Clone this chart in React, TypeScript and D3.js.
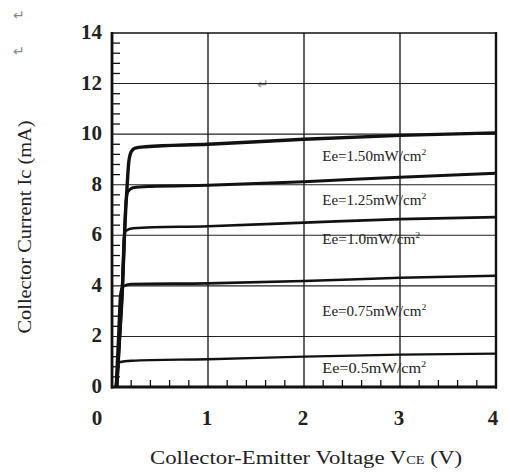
import React from "react";
import * as d3 from "d3";

const xTicks = [0, 1, 2, 3, 4];
const yTicks = [0, 2, 4, 6, 8, 10, 12, 14];
const seriesNames = ["1.50", "1.25", "1.0", "0.75", "0.5"];
const labelTexts = ["Ee=1.50mW/cm", "Ee=1.25mW/cm", "Ee=1.0mW/cm", "Ee=0.75mW/cm", "Ee=0.5mW/cm"];
const labelY = [8.95, 7.2, 5.65, 2.8, 0.55];

const curve150: [number, number][] = [[0.05, 0], [0.08, 2], [0.11, 4], [0.13, 6], [0.155, 7.8], [0.175, 8.9], [0.2, 9.3], [0.24, 9.45], [0.35, 9.5], [1, 9.6], [2, 9.8], [3, 9.95], [4, 10.05]];
const curve125: [number, number][] = [[0.05, 0], [0.08, 2], [0.11, 4], [0.13, 6], [0.145, 7.3], [0.165, 7.72], [0.22, 7.88], [0.4, 7.93], [1, 7.98], [2, 8.12], [3, 8.3], [4, 8.45]];
const curve100: [number, number][] = [[0.05, 0], [0.08, 2], [0.105, 4], [0.125, 5.9], [0.145, 6.18], [0.22, 6.28], [1, 6.36], [2, 6.5], [3, 6.64], [4, 6.72]];
const curve075: [number, number][] = [[0.04, 0], [0.065, 2], [0.085, 3.6], [0.11, 3.97], [0.2, 4.07], [1, 4.1], [2, 4.19], [3, 4.32], [4, 4.4]];
const curve050: [number, number][] = [[0.04, 0], [0.055, 0.75], [0.075, 0.98], [0.2, 1.04], [1, 1.1], [2, 1.2], [3, 1.28], [4, 1.32]];
const allCurves = [curve150, curve125, curve100, curve075, curve050];
const curveWidths = [3.4, 3, 2.6, 2.6, 2.4];

const W = 510;
const H = 475;
const L = 112, R = 496, T = 33, B = 387;

export default function App() {
  const x = d3.scaleLinear().domain([0, 4]).range([L, R]);
  const y = d3.scaleLinear().domain([0, 14]).range([B, T]);
  const line = d3
    .line<[number, number]>()
    .x((d) => x(d[0]))
    .y((d) => y(d[1]))
    .curve(d3.curveMonotoneX);

  const xMinor = d3.range(0, 4.001, 0.2).filter((v) => Math.abs(v - Math.round(v)) > 1e-6);
  const yMinor = d3.range(0, 14.001, 0.4).filter((v) => Math.abs(v / 2 - Math.round(v / 2)) > 1e-6);

  const tickFont = "'Liberation Serif', 'DejaVu Serif', serif";

  return (
    <svg width={W} height={H} style={{ position: "absolute", left: 0, top: 0, background: "#fff" }}>
      <rect x={0} y={0} width={W} height={H} fill="#fff" />
      {/* paragraph marks */}
      <text x={13} y={20} fontSize={14} fill="#8a8a8a" fontFamily="DejaVu Sans">↵</text>
      <text x={13} y={56} fontSize={14} fill="#8a8a8a" fontFamily="DejaVu Sans">↵</text>
      <text x={257} y={89} fontSize={14} fill="#8a8a8a" fontFamily="DejaVu Sans">↵</text>

      {/* grid */}
      {yTicks.slice(1, -1).map((v) => (
        <line key={"gy" + v} x1={L} x2={R} y1={y(v)} y2={y(v)} stroke="#222" strokeWidth={1.1} />
      ))}
      {xTicks.slice(1, -1).map((v) => (
        <line key={"gx" + v} x1={x(v)} x2={x(v)} y1={T} y2={B} stroke="#111" strokeWidth={1.3} />
      ))}

      {/* minor ticks */}
      {yMinor.map((v) => (
        <line key={"my" + v} x1={L} x2={L + 8} y1={y(v)} y2={y(v)} stroke="#111" strokeWidth={1.3} />
      ))}
      {xMinor.map((v) => (
        <line key={"mx" + v} x1={x(v)} x2={x(v)} y1={B} y2={B - 7} stroke="#111" strokeWidth={1.3} />
      ))}

      {/* frame */}
      <line x1={L} x2={R} y1={T} y2={T} stroke="#111" strokeWidth={1.6} />
      <line x1={L} x2={L} y1={T - 1} y2={B + 1.5} stroke="#111" strokeWidth={2.8} />
      <line x1={R} x2={R} y1={T - 1} y2={B + 1.5} stroke="#111" strokeWidth={2.4} />
      <line x1={L - 1} x2={R + 1} y1={B} y2={B} stroke="#111" strokeWidth={2.8} />

      {/* curves */}
      {allCurves.map((c, i) => (
        <path key={seriesNames[i]} d={line(c) || ""} fill="none" stroke="#111" strokeWidth={curveWidths[i]} strokeLinejoin="round" />
      ))}

      {/* curve labels */}
      {labelTexts.map((t, i) => (
        <text key={t} x={x(2.19)} y={y(labelY[i])} fontSize={14} fontFamily={tickFont} fill="#222" textLength={i === 2 ? 98 : 104} lengthAdjust="spacingAndGlyphs">
          {t}
          <tspan dy={-6} fontSize={9}>2</tspan>
        </text>
      ))}

      {/* y tick labels */}
      {yTicks.map((v) => (
        <text key={"ty" + v} x={102} y={y(v) + 6} textAnchor="end" fontSize={21} fontWeight="bold" fontFamily={tickFont} fill="#222">
          {v}
        </text>
      ))}
      {/* x tick labels */}
      {xTicks.map((v) => (
        <text key={"tx" + v} x={v === 0 ? 97 : x(v) - (v === 4 ? 3 : 1)} y={425} textAnchor="middle" fontSize={21} fontWeight="bold" fontFamily={tickFont} fill="#222">
          {v}
        </text>
      ))}

      {/* axis titles */}
      <text x={306} y={464} textAnchor="middle" fontSize={19} fontFamily={tickFont} fill="#222" textLength={312} lengthAdjust="spacingAndGlyphs">
        Collector-Emitter Voltage V<tspan fontSize={12}>CE</tspan> (V)
      </text>
      <text transform="translate(31,227) rotate(-90)" textAnchor="middle" fontSize={19} fontFamily={tickFont} fill="#222" textLength={213} lengthAdjust="spacingAndGlyphs">
        Collector Current Ic (mA)
      </text>
    </svg>
  );
}
